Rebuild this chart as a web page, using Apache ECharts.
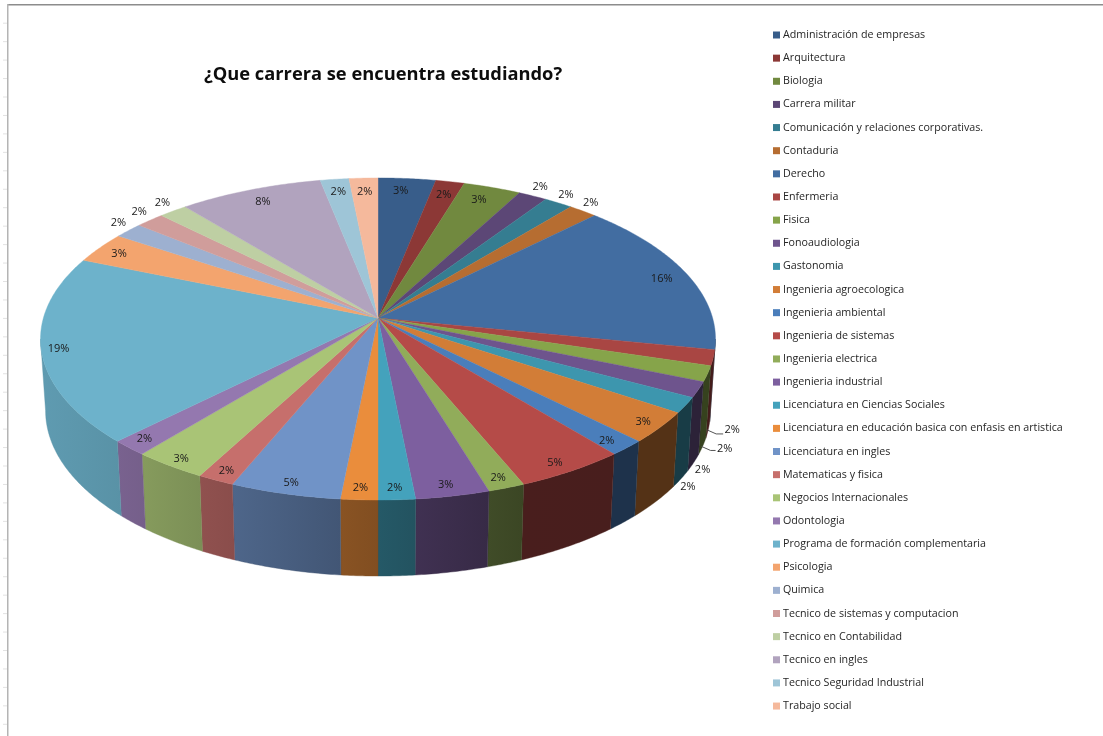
<!DOCTYPE html>
<html>
<head>
<meta charset="utf-8">
<title>¿Que carrera se encuentra estudiando?</title>
<script src="https://cdn.jsdelivr.net/npm/echarts@6/dist/echarts.min.js"></script>
<style>
  html, body { margin: 0; padding: 0; background: #fff; }
  #chart { width: 1103px; height: 736px; }
</style>
</head>
<body>
<div id="chart"></div>
<script>
// datos
const categories = [
  'Administración de empresas', 'Arquitectura', 'Biologia', 'Carrera militar',
  'Comunicación y relaciones corporativas.', 'Contaduria', 'Derecho', 'Enfermeria',
  'Fisica', 'Fonoaudiologia', 'Gastonomia', 'Ingenieria agroecologica',
  'Ingenieria ambiental', 'Ingenieria de sistemas', 'Ingenieria electrica', 'Ingenieria industrial',
  'Licenciatura en Ciencias Sociales', 'Licenciatura en educación basica con enfasis en artistica',
  'Licenciatura en ingles', 'Matematicas y fisica', 'Negocios Internacionales', 'Odontologia',
  'Programa de formación complementaria', 'Psicologia', 'Quimica',
  'Tecnico de sistemas y computacion', 'Tecnico en Contabilidad', 'Tecnico en ingles',
  'Tecnico Seguridad Industrial', 'Trabajo social',
]
const values = [2, 1, 2, 1, 1, 1, 10, 1, 1, 1, 1, 2, 1, 3, 1, 2, 1, 1, 3, 1, 2, 1, 12, 2, 1, 1, 1, 5, 1, 1]

// colores
const colors = [
  '#385D8A', '#8C3836', '#71893F', '#5C4776', '#357D91', '#B66D31',
  '#426DA1', '#A94643', '#86A44A', '#6E548D', '#3D96AE', '#D27D37',
  '#4A7EBB', '#B54B48', '#91AC5A', '#7D5F9F', '#44A2BC', '#EA8D3C',
  '#7093C7', '#C66F6C', '#A9C476', '#9478AF', '#6DB2CB', '#F3A46E',
  '#9DB0D0', '#D09D9B', '#BECFA3', '#B1A3BE', '#9EC5D7', '#F5B99C',
]

// posicion de cada etiqueta, como fraccion del radio
const labelRadius = [
  0.91, 0.9, 0.9, 1.09, 1.09, 1.09, 0.91, 1, 1, 1, 1, 0.945, 0.945, 0.95, 0.943,
  0.94, 0.94, 0.94, 0.94, 0.942, 0.95, 0.93, 0.95, 0.92, 1.11, 1.1, 1.09, 0.905, 0.903, 0.9,
]
// ajuste horizontal de algunas etiquetas
const labelShift = { 0: -4, 2: -3, 3: -5, 4: -7, 5: -9, 6: 2, 12: -5, 13: -6, 15: -2, 16: -1, 21: -4, 23: -2, 24: 15, 25: 10, 26: 6, 27: 2 }
// etiquetas que van debajo de la pared, [dx, dy, con linea guia]
const wallLabels = { 7: [24, 0, true], 8: [22, 2, true], 9: [9, 7, false], 10: [7, 8, false] }

// perspectiva del disco
const cx = 378
const cy = 318
const rx = 334.6
const ry = 158.3
const persp = 0.1304
const wallStart = 97.5

const total = values.reduce((a, b) => a + b, 0)
const starts = []
values.reduce((acc, v, i) => { starts[i] = acc; return acc + v }, 0)

function toDeg(v) { return v / total * 360 }

// punto de la tapa superior, deg medido desde las 12 en sentido horario
function topPoint(deg, r) {
  const a = deg * Math.PI / 180
  const X = Math.sin(a) * r
  const Y = -Math.cos(a) * r
  const d = 1 - persp * Y
  return [cx + rx * X / d, cy + ry * Y / d]
}
// punto del borde inferior de la pared
function bottomPoint(deg) {
  const p = topPoint(deg, 1)
  const Y = -Math.cos(deg * Math.PI / 180)
  return [cx + (p[0] - cx) * 0.985, p[1] + 71 + 5 * Y]
}
function arc(from, to, fn) {
  const pts = []
  const n = Math.max(2, Math.ceil((to - from) * 2))
  for (let i = 0; i <= n; i++) pts.push(fn(from + (to - from) * i / n))
  return pts
}
function shade(hex, f) {
  const n = parseInt(hex.slice(1), 16)
  return 'rgb(' + [(n >> 16) & 255, (n >> 8) & 255, n & 255].map(c => Math.round(c * f)).join(',') + ')'
}
function wallFactor(deg) {
  const X = Math.sin(deg * Math.PI / 180)
  return Math.max(0.4, Math.min(0.87, 0.55 - 0.38 * X))
}

function renderSlice(i) {
  const a0 = toDeg(starts[i])
  const a1 = toDeg(starts[i] + values[i])
  const children = []

  // pared lateral
  const w0 = Math.max(a0, wallStart)
  const w1 = Math.min(a1, 360 - wallStart)
  if (w1 > w0) {
    const top = arc(w0, w1, d => topPoint(d, 1))
    const bottom = arc(w0, w1, bottomPoint).reverse()
    const c0 = shade(colors[i], wallFactor(w0))
    const c1 = shade(colors[i], wallFactor(w1))
    const rightToLeft = top[0][0] > top[top.length - 1][0]
    children.push({
      type: 'polygon',
      z2: 1,
      shape: { points: top.concat(bottom) },
      style: {
        fill: {
          type: 'linear', x: 0, y: 0, x2: 1, y2: 0,
          colorStops: [
            { offset: 0, color: rightToLeft ? c1 : c0 },
            { offset: 1, color: rightToLeft ? c0 : c1 },
          ],
        },
        stroke: c0,
        lineWidth: 0.4,
      },
    })
  }

  // tapa
  children.push({
    type: 'polygon',
    z2: 2,
    shape: { points: [[cx, cy]].concat(arc(a0, a1, d => topPoint(d, 1))) },
    style: { fill: colors[i], stroke: colors[i], lineWidth: 0.4 },
  })

  // etiqueta
  const mid = (a0 + a1) / 2
  const text = Math.round(values[i] / total * 100) + '%'
  let pos
  if (wallLabels[i]) {
    const b = bottomPoint(mid)
    pos = [b[0] + wallLabels[i][0], b[1] + wallLabels[i][1]]
    if (wallLabels[i][2]) {
      children.push({
        type: 'polyline',
        z2: 3,
        shape: { points: [[b[0] - 1, b[1]], [b[0] + 8, b[1] + 4], [pos[0] - 9, b[1] + 4]] },
        style: { stroke: '#555', lineWidth: 1, fill: null },
      })
    }
  } else {
    pos = topPoint(mid, labelRadius[i])
    pos = [pos[0] + (labelShift[i] || 0), pos[1] + 1]
  }
  children.push({
    type: 'text',
    z2: 4,
    style: {
      text: text, x: pos[0], y: pos[1], align: 'center', verticalAlign: 'middle',
      fill: '#1a1a1a', font: '11px "Open Sans"',
    },
  })
  return { type: 'group', children: children }
}

// marco de la hoja de calculo
const sheetFrame = [
  { type: 'rect', shape: { x: 7, y: 4, width: 1096, height: 1.5 }, style: { fill: '#8c8c8c' } },
  { type: 'rect', shape: { x: 7, y: 4, width: 1.5, height: 732 }, style: { fill: '#b4b4b4' } },
]
for (let y = 22.7; y < 736; y += 18.45) {
  sheetFrame.push({ type: 'rect', shape: { x: 3, y: y, width: 4, height: 1 }, style: { fill: '#e2e2e2' } })
}

const mycharts = echarts.init(document.getElementById('chart'))
const option = {
  animation: false,
  backgroundColor: '#fff',
  title: {
    text: '¿Que carrera se encuentra estudiando?',
    left: 199,
    top: 61,
    textStyle: { fontFamily: 'Open Sans', fontSize: 18.3, fontWeight: 'bold', color: '#0d0d0d' },
  },
  graphic: sheetFrame,
  legend: {
    orient: 'vertical',
    left: 773,
    top: 29,
    padding: 0,
    icon: 'rect',
    itemWidth: 7,
    itemHeight: 7,
    itemGap: 11.14,
    selectedMode: false,
    data: categories,
    textStyle: { fontFamily: 'Open Sans', fontSize: 10.7, lineHeight: 12, color: '#262626', padding: [0, 0, 0, -2] },
  },
  series: categories.map((name, i) => ({
    name: name,
    type: 'custom',
    coordinateSystem: 'none',
    silent: true,
    itemStyle: { color: colors[i] },
    data: [[values[i]]],
    renderItem: () => renderSlice(i),
  })),
}
mycharts.setOption(option)
</script>
</body>
</html>
